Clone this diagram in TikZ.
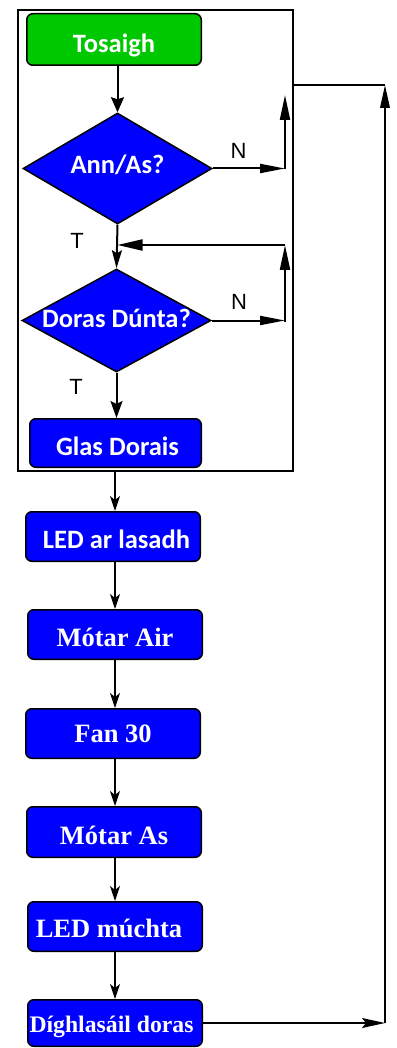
\documentclass[tikz,border=0pt]{standalone}
\usepackage{fontspec}
\setmainfont{Liberation Serif}
\newfontfamily\calib{Carlito}
\newfontfamily\arialf{Liberation Sans}
\usetikzlibrary{shapes.geometric,arrows.meta}
\definecolor{tgreen}{RGB}{0,200,0}
\definecolor{tblue}{RGB}{0,0,255}
\begin{document}
\begin{tikzpicture}[x=1pt,y=-1pt,
  box/.style={draw=black, line width=1.5pt, rounded corners=6pt, fill=tblue, text=white,
    inner sep=0pt, minimum width=174.5pt, minimum height=49.5pt, text depth=0pt},
  sansbox/.style={box, font=\calib\bfseries\fontsize{26.5pt}{30pt}\selectfont},
  serifbox/.style={box, font=\bfseries\fontsize{26.5pt}{30pt}\selectfont},
  diam/.style={draw=black, line width=1.5pt, fill=tblue, shape=diamond, inner sep=0pt},
  dlabel/.style={text=white, inner sep=0pt, text depth=0pt, font=\calib\bfseries\fontsize{26.5pt}{30pt}\selectfont},
  yn/.style={inner sep=0pt, text height=15.75pt, text depth=0pt, font=\arialf\fontsize{22pt}{24pt}\selectfont},
  thick2/.style={line width=2pt, draw=black},
  thin15/.style={line width=1.5pt, draw=black},
  bigtri/.style={-{Triangle[length=25pt,width=10pt]}},
  downarr/.style={-{Stealth[length=17pt,width=12pt,inset=3pt]}},
  smallarr/.style={-{Stealth[length=15pt,width=10pt,inset=4pt]}},
  longarr/.style={-{Stealth[length=23pt,width=10pt,inset=4pt]}}
]
\useasboundingbox (0,0) rectangle (396,1048);

% frame
\node[draw=black, line width=2pt, inner sep=0pt, minimum width=275pt, minimum height=461pt] (frame) at (155.5,240.5) {};

% top part
\node[sansbox, fill=tgreen, minimum width=174.5pt, minimum height=51.5pt, text height=27pt] (tos) at (114,39.5) {Tosaigh};
\node[diam, minimum width=189pt, minimum height=111pt,
  label={[dlabel, text height=11pt]center:Ann/As?}] (d1) at (117.5,168.5) {};
\node[diam, minimum width=189pt, minimum height=103pt,
  label={[dlabel, text height=13pt]center:Doras Dúnta?}] (d2) at (116.5,320.5) {};
\node[sansbox, minimum width=171.5pt, minimum height=48.5pt, text height=24pt] (glas) at (115.5,443) {\hspace*{4pt}Glas Dorais};

\node[yn] (n1) at (238.5,151) {N};
\node[yn] (t1) at (77,241) {T};
\node[yn] (n2) at (239,301.5) {N};
\node[yn] (t2) at (76,386.5) {T};

% lower boxes
\node[sansbox, text height=23pt] (led1) at (113,536.5) {\hspace*{7pt}LED ar lasadh};
\node[serifbox, text height=23pt] (mair) at (115,634.5) {Mótar Air};
\node[serifbox, text height=18pt] (fan) at (113,733.5) {Fan 30};
\node[serifbox, minimum height=50.5pt, text height=24pt] (mas) at (114,832) {Mótar As};
\node[serifbox, text height=21pt] (ledm) at (115,926.5) {LED múchta\hspace*{12pt}};
\node[serifbox, minimum height=46.5pt, text height=18pt, font=\bfseries\fontsize{23.7pt}{28pt}\selectfont] (digh) at (115,1023) {Díghlasáil doras\hspace*{7pt}};

% coordinates
\coordinate (n1c) at (285,168.5);
\coordinate (n1t) at (285,95);
\coordinate (n2c) at (285,320.5);
\coordinate (fb) at (285,245);
\coordinate (xl) at (115,0);
\coordinate (rt) at (385,85);
\coordinate (rb) at (385,1023);

% top connectors
\draw[thick2, -{Stealth[length=15pt,width=13pt,inset=2pt]}] (tos.south -| d1.north) -- (d1.north);
\draw[thick2, -{Triangle[length=25pt,width=9pt]}] (d1.east) -- (n1c);
\draw[thick2, bigtri, line cap=rect] (n1c) -- (n1t);
\draw[thick2, -{Stealth[length=18pt,width=10pt,inset=3pt]}] (d1.south) -- (d2.north);
\draw[thick2, -{Triangle[length=25pt,width=9pt]}] (d2.east) -- (n2c);
\draw[thick2, bigtri, line cap=rect] (n2c) -- (fb);
\draw[thick2, -{Triangle[length=25pt,width=11pt]}] (fb) -- (d1.south |- fb);
\draw[thick2, downarr] (d2.south) -- (glas.north -| d2.south);

% lower connectors
\draw[thin15, smallarr] (frame.south -| xl) -- (led1.north -| xl);
\draw[thin15, smallarr] (led1.south -| xl) -- (mair.north -| xl);
\draw[thin15, smallarr] (mair.south -| xl) -- (fan.north -| xl);
\draw[thin15, smallarr] (fan.south -| xl) -- (mas.north -| xl);
\draw[thin15, smallarr] (mas.south -| xl) -- (ledm.north -| xl);
\draw[thin15, smallarr] (ledm.south -| xl) -- (digh.north -| xl);

% return loop
\draw[thin15, longarr] (digh.east) -- (rb);
\draw[thick2, -{Triangle[length=23pt,width=9.5pt]}] (rb) -- (rt);
\draw[thick2] (frame.east |- rt) -- (rt);
\end{tikzpicture}
\end{document}
